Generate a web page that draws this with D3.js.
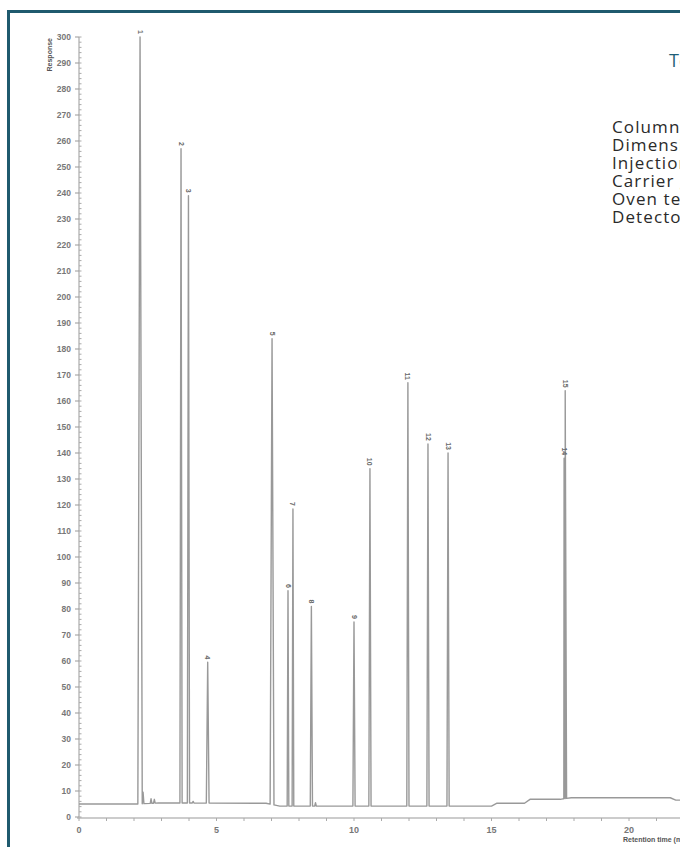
<!DOCTYPE html>
<html>
<head>
<meta charset="utf-8">
<script src="https://cdn.jsdelivr.net/npm/d3@7"></script>
<style>
  body { margin: 0; background: #fff; }
  svg { display: block; }
</style>
</head>
<body>
<svg id="chart"></svg>
<script>
// peaks (retention time in min, response)
const peakLabels = ["1", "2", "3", "4", "5", "6", "7", "8", "9", "10", "11", "12", "13", "14", "15"];
const peakTimes = [2.22, 3.71, 3.98, 4.68, 7.02, 7.60, 7.78, 8.45, 10.0, 10.58, 11.96, 12.69, 13.42, 17.64, 17.68];
const peakHeights = [300, 257, 239, 59.5, 184, 87, 118.5, 81, 75, 134, 167, 143.5, 140, 138, 164];
const peakHalfWidths = [0.08, 0.04, 0.04, 0.05, 0.07, 0.03, 0.03, 0.04, 0.04, 0.04, 0.04, 0.04, 0.04, 0.04, 0.05];

// small unlabelled bumps after peak 1
const minorTimes = [2.33, 2.62, 2.74, 4.15, 8.6];
const minorHeights = [9.5, 7, 6.8, 6, 5.5];

// baseline drift
const baseTimes = [0, 2.1, 2.9, 6.8, 7.3, 15.0, 15.2, 16.2, 16.4, 17.5, 17.9, 21.5, 21.7, 25];
const baseLevels = [5, 5, 5.4, 5.3, 4.2, 4.2, 5.3, 5.3, 6.8, 6.8, 7.4, 7.4, 6.5, 6.5];

const xTicks = [0, 5, 10, 15, 20, 25];
const yTicks = d3.range(0, 301, 10);

const conditionLabels = ["Column:", "Dimensions:", "Injection:", "Carrier gas:", "Oven temperature:", "Detector:"];

const width = 680;
const height = 847;

const svg = d3.select("#chart").attr("width", width).attr("height", height)
  .style("background", "#fff");

// frame
svg.append("rect")
  .attr("x", 8.5).attr("y", 11.5)
  .attr("width", 760).attr("height", 900)
  .attr("fill", "none")
  .attr("stroke", "#1f5a6e")
  .attr("stroke-width", 3);

const x = d3.scaleLinear().domain([0, 25]).range([79, 79 + 25 * 27.5]);
const y = d3.scaleLinear().domain([0, 300]).range([817, 37]);
const baseAt = d3.scaleLinear().domain(baseTimes).range(baseLevels);

// y axis
const yAxis = svg.append("g").attr("transform", "translate(79,0)");
yAxis.append("line").attr("y1", y(300)).attr("y2", y(0)).attr("stroke", "#999");
yAxis.selectAll(".minor").data(d3.range(0, 301, 2)).join("line")
  .attr("x1", 0).attr("x2", 2.5)
  .attr("y1", d => y(d)).attr("y2", d => y(d))
  .attr("stroke", "#aaa");
yAxis.selectAll(".major").data(yTicks).join("line")
  .attr("x1", -4).attr("x2", 0)
  .attr("y1", d => y(d)).attr("y2", d => y(d))
  .attr("stroke", "#999");
yAxis.selectAll("text").data(yTicks).join("text")
  .attr("x", -8).attr("y", d => y(d))
  .attr("dy", "0.35em")
  .attr("text-anchor", "end")
  .style("font", "bold 8.5px 'Liberation Sans', Arial, sans-serif")
  .attr("fill", "#777")
  .text(d => d);

svg.append("text")
  .attr("transform", `translate(52,${y(300) + 1}) rotate(-90)`)
  .attr("text-anchor", "end")
  .style("font", "bold 7px 'Liberation Sans', Arial, sans-serif")
  .attr("fill", "#555")
  .text("Response");

// x axis
const xAxis = svg.append("g").attr("transform", `translate(0,${y(0) + 1})`);
xAxis.append("line").attr("x1", 77).attr("x2", x(25)).attr("stroke", "#999");
xAxis.selectAll(".minor").data(d3.range(0, 26, 1)).join("line")
  .attr("x1", d => x(d)).attr("x2", d => x(d))
  .attr("y1", 0).attr("y2", 3)
  .attr("stroke", "#aaa");
xAxis.selectAll("text").data(xTicks).join("text")
  .attr("x", d => x(d)).attr("y", 15)
  .attr("text-anchor", "middle")
  .style("font", "bold 9px 'Liberation Sans', Arial, sans-serif")
  .attr("fill", "#777")
  .text(d => d);

svg.append("text")
  .attr("x", 623).attr("y", 842)
  .style("font", "bold 7px 'Liberation Sans', Arial, sans-serif")
  .attr("fill", "#555")
  .text("Retention time (min)");

// trace: baseline points plus a spike for every peak
const pts = baseTimes.map((t, i) => ({ t: t, v: baseLevels[i] }));
peakTimes.forEach((t, i) => {
  const hw = peakHalfWidths[i];
  pts.push({ t: t - hw, v: baseAt(t - hw) });
  pts.push({ t: t, v: peakHeights[i] });
  pts.push({ t: t + hw, v: baseAt(t + hw) });
});
minorTimes.forEach((t, i) => {
  pts.push({ t: t - 0.03, v: baseAt(t - 0.03) });
  pts.push({ t: t, v: minorHeights[i] });
  pts.push({ t: t + 0.03, v: baseAt(t + 0.03) });
});
pts.sort((a, b) => a.t - b.t);

svg.append("path")
  .datum(pts)
  .attr("d", d3.line().x(d => x(d.t)).y(d => y(d.v)))
  .attr("fill", "none")
  .attr("stroke", "#999")
  .attr("stroke-width", 1.4)
  .attr("stroke-linejoin", "round");

// peak numbers
svg.selectAll(".plabel").data(peakLabels).join("text")
  .attr("class", "plabel")
  .attr("transform", (d, i) => `translate(${x(peakTimes[i])},${y(peakHeights[i]) - 3}) rotate(90)`)
  .attr("text-anchor", "end")
  .attr("dy", "0.35em")
  .style("font", "bold 7px 'Liberation Sans', Arial, sans-serif")
  .attr("fill", "#666")
  .text(d => d);

// conditions block, cut by the right edge
svg.append("text")
  .attr("x", 669).attr("y", 67)
  .style("font", "18px 'Open Sans', sans-serif")
  .attr("fill", "#1f5f78")
  .text("Test conditions");

svg.selectAll(".cond").data(conditionLabels).join("text")
  .attr("class", "cond")
  .attr("x", 612)
  .attr("y", (d, i) => 133 + i * 18)
  .style("font", "17px 'Open Sans', sans-serif")
  .style("letter-spacing", "1.1px")
  .attr("fill", "#2a2a2a")
  .text(d => d);
</script>
</body>
</html>
